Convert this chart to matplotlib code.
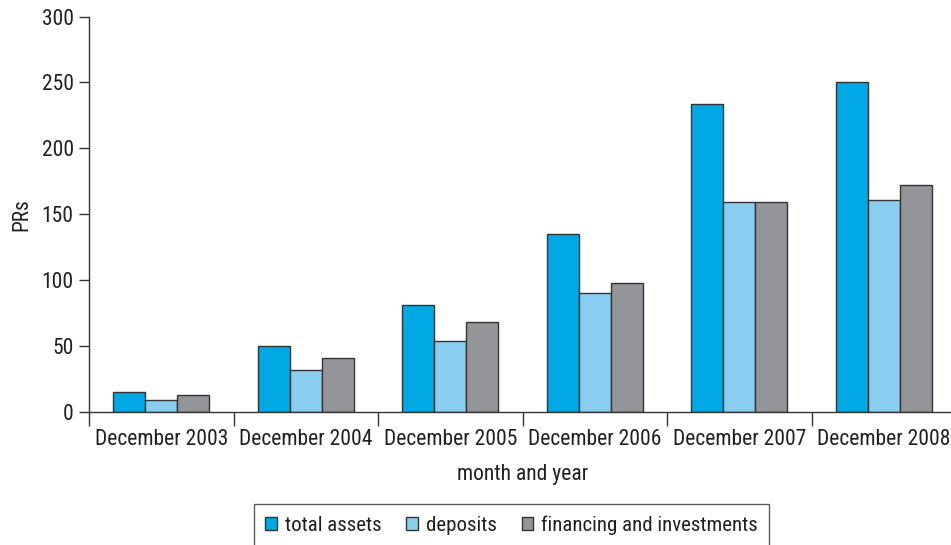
import numpy as np
import matplotlib.pyplot as plt

plt.rcParams['font.family'] = ['Roboto Condensed', 'DejaVu Sans']

# values in PRs per year-end
periods = ['December 2003', 'December 2004', 'December 2005',
           'December 2006', 'December 2007', 'December 2008']
total_assets = [15, 50, 81, 135, 234, 250]
deposits = [9, 32, 54, 90, 159, 161]
financing = [13, 41, 68, 98, 159, 172]

series = [('total assets', total_assets, '#00a9e4'),
          ('deposits', deposits, '#89cdf1'),
          ('financing and investments', financing, '#939598')]

fs = 15.5
fig = plt.figure(figsize=(9.51, 5.45), dpi=100)
ax = fig.add_axes([0.0936, 0.244, 0.9117, 0.7256])

x = np.arange(len(periods))
w = 0.222
for i, (name, vals, col) in enumerate(series):
    ax.bar(x + (i - 1) * w, vals, width=w, color=col, edgecolor='#333333',
           linewidth=1.0, label=name)

ax.set_xlim(-0.5, len(periods) - 0.5)
ax.set_ylim(0, 300)
ax.set_yticks(range(0, 301, 50))

# group separators as ticks, labels centred in each group
ax.set_xticks(np.arange(len(periods) + 1) - 0.5)
ax.set_xticklabels([])
ax.set_xticks(x, minor=True)
ax.set_xticklabels(periods, minor=True)
ax.tick_params(axis='x', which='major', length=10, width=1, color='#333333', direction='out')
ax.tick_params(axis='x', which='minor', length=0, pad=12, labelsize=fs, labelcolor='#231f20')
ax.tick_params(axis='y', length=7, width=1, color='#333333', pad=4, labelsize=fs, labelcolor='#231f20')

for s in ['top', 'right']:
    ax.spines[s].set_visible(False)
for s in ['left', 'bottom']:
    ax.spines[s].set_color('#333333')
    ax.spines[s].set_linewidth(1)

ax.set_xlabel('month and year', fontsize=fs, color='#231f20', labelpad=10)
ax.set_ylabel('PRs', fontsize=fs, color='#231f20', labelpad=7)

leg = fig.legend(loc='upper left', bbox_to_anchor=(254 / 951, 1 - 504 / 545),
                 ncol=3, fontsize=15, frameon=True, fancybox=False,
                 edgecolor='#333333', handlelength=0.55, handleheight=0.55,
                 handletextpad=0.38, columnspacing=1.2, borderpad=0.55,
                 borderaxespad=0)
leg.get_frame().set_linewidth(1)
for t in leg.get_texts():
    t.set_color('#231f20')

fig.savefig('out.png', dpi=100)
